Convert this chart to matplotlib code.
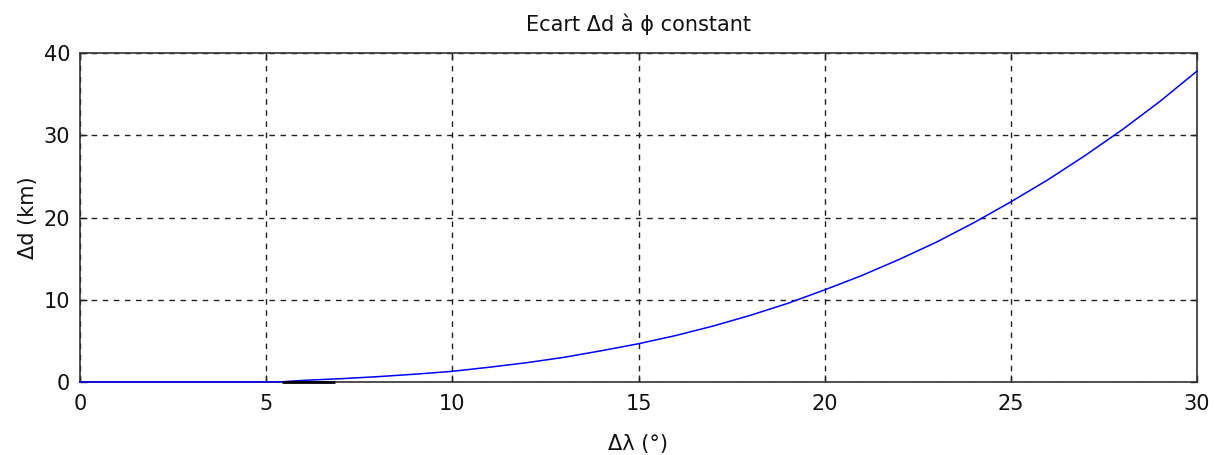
import matplotlib
matplotlib.use("Agg")
import matplotlib.pyplot as plt

# data
dlambda = [0, 1, 2, 3, 4, 5, 5.4, 6, 7, 8, 9, 10, 11, 12, 13, 14, 15, 16, 17, 18,
           19, 20, 21, 22, 23, 24, 25, 26, 27, 28, 29, 30]
dd = [0, 0, 0, 0, 0, 0, 0.02, 0.2, 0.4, 0.65, 0.95, 1.3, 1.8, 2.35, 3.0, 3.8,
      4.65, 5.65, 6.8, 8.1, 9.55, 11.2, 12.95, 14.9, 17.0, 19.35, 21.9, 24.6,
      27.55, 30.7, 34.1, 37.8]
seg_x = [5.42, 6.85]
seg_y = [0.06, 0.06]

xticks = [0, 5, 10, 15, 20, 25, 30]
yticks = [0, 10, 20, 30, 40]

plt.rcParams['font.family'] = ['DejaVu Sans']
fig = plt.figure(figsize=(12.16, 4.55), dpi=100)
ax = fig.add_axes([80/1216, 73/455, 1117/1216, 329/455])

ax.plot(dlambda, dd, color='#0000ff', lw=1.1, zorder=6, clip_on=False)
ax.plot(seg_x, seg_y, color='black', lw=2.0, zorder=7, solid_capstyle='butt',
        clip_on=False)

ax.set_xlim(0, 30)
ax.set_ylim(0, 40)
ax.set_xticks(xticks)
ax.set_yticks(yticks)
ax.set_xticklabels([str(t) for t in xticks])
ax.set_yticklabels([str(t) for t in yticks])
ax.tick_params(direction='in', length=5, width=1, colors='#222222',
               labelsize=15, labelcolor='#111111')
ax.tick_params(axis='x', pad=9)
ax.tick_params(axis='y', pad=7)
ax.tick_params(top=True, right=True)
ax.grid(True, color='#222222', linestyle=(0, (4, 4)), linewidth=1.0)
for s in ax.spines.values():
    s.set_color('#333333')
    s.set_linewidth(1.2)
    s.set_zorder(5)

ax.set_title('Ecart \u0394d \u00e0 \u03d5 constant', fontsize=15, pad=16, color='#111111')
ax.set_xlabel('\u0394\u03bb (\u00b0)', fontsize=15, labelpad=14, color='#111111')
ax.set_ylabel('\u0394d (km)', fontsize=15, labelpad=4, color='#111111')

fig.savefig('out.png', dpi=100, facecolor='white')
